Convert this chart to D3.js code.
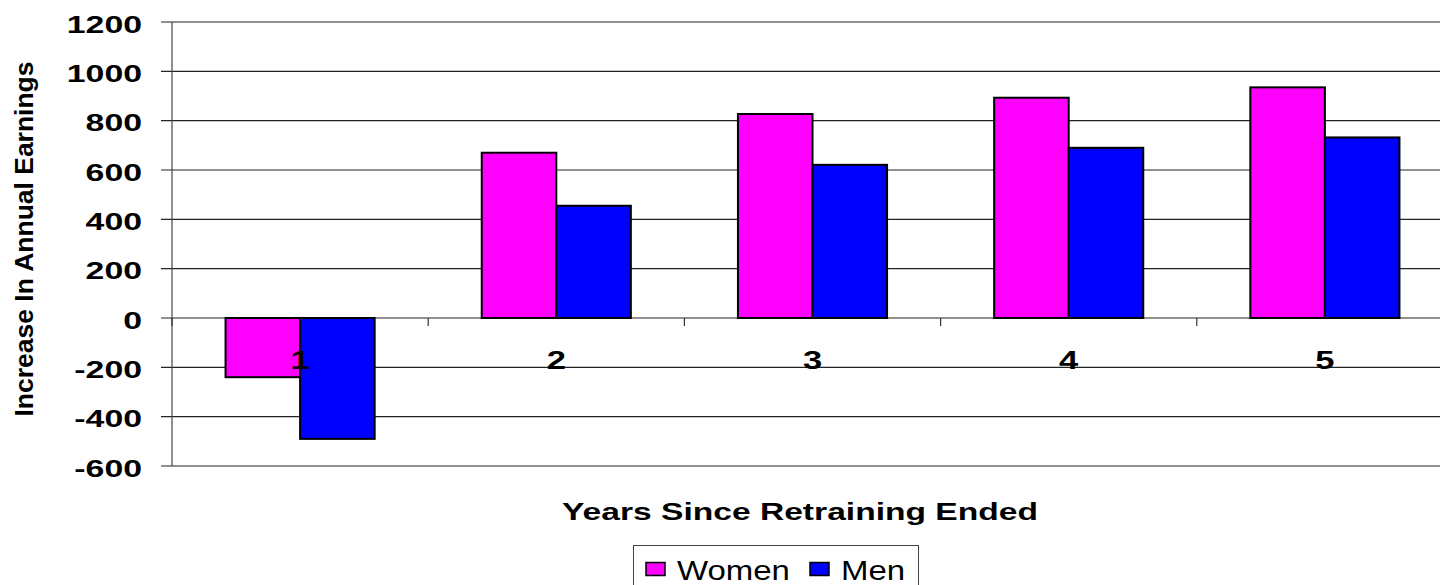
<!DOCTYPE html>
<html>
<head>
<meta charset="utf-8">
<script src="https://cdn.jsdelivr.net/npm/d3@7"></script>
<style>
  html, body { margin: 0; padding: 0; background: #fff; overflow: hidden; }
  svg { display: block; font-family: "Liberation Sans", Arial, sans-serif; }
</style>
</head>
<body>
<svg id="chart" width="1440" height="585"></svg>
<script>
// Years since retraining ended and the change in annual earnings
const categories = ["1", "2", "3", "4", "5"];
const seriesNames = ["Women", "Men"];
const women = [-240, 670, 827, 893, 935];
const men = [-490, 455, 621, 690, 732];
const yTicks = [-600, -400, -200, 0, 200, 400, 600, 800, 1000, 1200];
const colors = { Women: "#FF00FF", Men: "#0000FF" };

const rows = categories.map((c, i) => ({ cat: c, Women: women[i], Men: men[i] }));

const svg = d3.select("#chart");
const plot = { left: 172, right: 1453, top: 22, bottom: 466 };
const stretch = 1.38; // horizontal text stretch

const x = d3.scaleBand().domain(categories).range([plot.left, plot.right]).padding(0);
const groupW = x.bandwidth() * 0.582;
const x1 = d3.scaleBand().domain(seriesNames).range([-groupW / 2, groupW / 2]).padding(0);
const y = d3.scaleLinear().domain([-600, 1200]).range([plot.bottom, plot.top]);

// horizontal gridlines with short ticks to the left of the axis
const grid = svg.append("g");
grid.selectAll("line").data(yTicks).join("line")
  .attr("x1", plot.left - 11).attr("x2", plot.right)
  .attr("y1", d => y(d)).attr("y2", d => y(d))
  .attr("stroke", "#222").attr("stroke-width", 1.1);

// y axis line
svg.append("line")
  .attr("x1", plot.left).attr("x2", plot.left)
  .attr("y1", plot.top).attr("y2", plot.bottom)
  .attr("stroke", "#444").attr("stroke-width", 1.2);

// y tick labels
svg.append("g").selectAll("text").data(yTicks).join("text")
  .attr("transform", d => `translate(142,${y(d) + 10.5}) scale(${stretch},1)`)
  .attr("text-anchor", "end")
  .attr("font-size", 24.5).attr("font-weight", "bold").attr("fill", "#000")
  .text(d => d);

// bars
const groups = svg.append("g").selectAll("g").data(rows).join("g")
  .attr("transform", d => `translate(${x(d.cat) + x.bandwidth() / 2},0)`);
groups.selectAll("rect").data(d => seriesNames.map(s => ({ s, v: d[s] }))).join("rect")
  .attr("x", d => x1(d.s))
  .attr("width", x1.bandwidth())
  .attr("y", d => y(Math.max(0, d.v)))
  .attr("height", d => Math.abs(y(d.v) - y(0)))
  .attr("fill", d => colors[d.s])
  .attr("stroke", "#000").attr("stroke-width", 2);

// category tick marks on the zero line
const bounds = categories.slice(1).map(c => x(c)).concat([plot.left]);
svg.append("g").selectAll("line").data(bounds).join("line")
  .attr("x1", d => d).attr("x2", d => d)
  .attr("y1", y(0)).attr("y2", y(0) + 8)
  .attr("stroke", "#333").attr("stroke-width", 1.2);

// category labels
svg.append("g").selectAll("text").data(categories).join("text")
  .attr("transform", d => `translate(${x(d) + x.bandwidth() / 2},${y(0) + 50.7}) scale(${stretch},1)`)
  .attr("text-anchor", "middle")
  .attr("font-size", 25).attr("font-weight", "bold").attr("fill", "#000")
  .text(d => d);

// axis titles
svg.append("text")
  .attr("transform", "translate(32.5,239) rotate(-90)")
  .attr("text-anchor", "middle")
  .attr("font-size", 25).attr("font-weight", "bold")
  .attr("textLength", 355).attr("lengthAdjust", "spacingAndGlyphs")
  .text("Increase In Annual Earnings");

svg.append("text")
  .attr("x", 800).attr("y", 520)
  .attr("text-anchor", "middle")
  .attr("font-size", 23).attr("font-weight", "bold")
  .attr("textLength", 476).attr("lengthAdjust", "spacingAndGlyphs")
  .text("Years Since Retraining Ended");

// legend
const legend = svg.append("g");
legend.append("rect")
  .attr("x", 633.5).attr("y", 545.5).attr("width", 285).attr("height", 60)
  .attr("fill", "#fff").attr("stroke", "#444").attr("stroke-width", 1);
const legendItems = [{ s: "Women", sx: 646, tx: 677 }, { s: "Men", sx: 810, tx: 841 }];
legend.selectAll("rect.sw").data(legendItems).join("rect")
  .attr("class", "sw")
  .attr("x", d => d.sx).attr("y", 562.5).attr("width", 19).attr("height", 13)
  .attr("fill", d => colors[d.s]).attr("stroke", "#000").attr("stroke-width", 1.5);
legend.selectAll("text").data(legendItems).join("text")
  .attr("transform", d => `translate(${d.tx},580) scale(1.22,1)`)
  .attr("font-size", 27).attr("fill", "#000")
  .text(d => d.s);
</script>
</body>
</html>
